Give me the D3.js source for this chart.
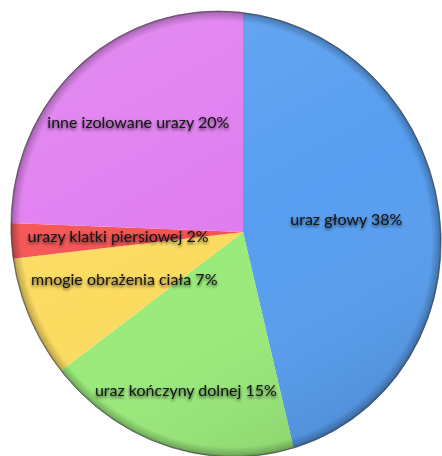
<!DOCTYPE html>
<html>
<head>
<meta charset="utf-8">
<script src="https://cdn.jsdelivr.net/npm/d3@7"></script>
<style>
  html, body { margin: 0; padding: 0; background: #ffffff; }
  svg { display: block; }
</style>
</head>
<body>
<svg id="chart" width="442" height="456"></svg>
<script>
// ---- data ----
const categories = [
  "uraz głowy",
  "uraz kończyny dolnej",
  "mnogie obrażenia ciała",
  "urazy klatki piersiowej",
  "inne izolowane urazy"
];
const values = [38, 15, 7, 2, 20];
const valueLabels = ["38%", "15%", "7%", "2%", "20%"];

// ---- layout / style (not data) ----
const colors = ["#579ef0", "#9aeb7a", "#fcdb60", "#f45252", "#e07df0"];
const labelDist = [104, 169, 128, 125, 151];
const vertex = { x: 243, y: 232 };
const rim = { cx: 226, cy: 234, rx: 215, ry: 223, skew: 2 };

const svg = d3.select("#chart");
const defs = svg.append("defs");

defs.append("clipPath").attr("id", "pieClip")
  .append("ellipse")
  .attr("transform", `translate(${rim.cx},${rim.cy}) skewX(${rim.skew})`)
  .attr("rx", rim.rx).attr("ry", rim.ry);

const light = defs.append("linearGradient").attr("id", "light")
  .attr("gradientUnits", "userSpaceOnUse")
  .attr("x1", 120).attr("y1", 20).attr("x2", 360).attr("y2", 450);
light.append("stop").attr("offset", 0).attr("stop-color", "#fff").attr("stop-opacity", 0.10);
light.append("stop").attr("offset", 0.5).attr("stop-color", "#fff").attr("stop-opacity", 0);
light.append("stop").attr("offset", 1).attr("stop-color", "#000").attr("stop-opacity", 0.12);

const rimGrad = defs.append("radialGradient").attr("id", "rimGrad");
rimGrad.append("stop").attr("offset", 0.955).attr("stop-color", "#000").attr("stop-opacity", 0);
rimGrad.append("stop").attr("offset", 0.99).attr("stop-color", "#000").attr("stop-opacity", 0.22);
rimGrad.append("stop").attr("offset", 1).attr("stop-color", "#000").attr("stop-opacity", 0.45);

const shadow = defs.append("filter").attr("id", "txtShadow")
  .attr("x", "-10%").attr("y", "-40%").attr("width", "120%").attr("height", "180%");
shadow.append("feDropShadow").attr("dx", 0).attr("dy", 1.8)
  .attr("stdDeviation", 1.6).attr("flood-color", "#000").attr("flood-opacity", 0.7);

const pie = d3.pie().sort(null).value(d => d)
  .startAngle(0).endAngle(2 * Math.PI);
const arcs = pie(values);

const arc = d3.arc().innerRadius(0).outerRadius(320);

const g = svg.append("g").attr("clip-path", "url(#pieClip)");
const slices = g.append("g").attr("transform", `translate(${vertex.x},${vertex.y})`);

slices.selectAll("path.slice")
  .data(arcs)
  .join("path")
  .attr("class", "slice")
  .attr("d", arc)
  .attr("fill", (d, i) => colors[i]);

// lighting + bevel overlays
g.append("rect").attr("x", 0).attr("y", 0).attr("width", 442).attr("height", 456)
  .attr("fill", "url(#light)");
g.append("ellipse")
  .attr("transform", `translate(${rim.cx},${rim.cy}) skewX(${rim.skew})`)
  .attr("rx", rim.rx).attr("ry", rim.ry)
  .attr("fill", "url(#rimGrad)");

svg.append("ellipse")
  .attr("transform", `translate(${rim.cx},${rim.cy}) skewX(${rim.skew})`)
  .attr("rx", rim.rx).attr("ry", rim.ry)
  .attr("fill", "none").attr("stroke", "#4a4a4a").attr("stroke-width", 0.9)
  .attr("stroke-opacity", 0.8);

// labels
const labels = svg.append("g").attr("transform", `translate(${vertex.x},${vertex.y})`);
labels.selectAll("text")
  .data(arcs)
  .join("text")
  .attr("x", (d, i) => Math.sin((d.startAngle + d.endAngle) / 2) * labelDist[i])
  .attr("y", (d, i) => -Math.cos((d.startAngle + d.endAngle) / 2) * labelDist[i])
  .attr("dy", "0.33em")
  .attr("text-anchor", "middle")
  .attr("font-family", "Lato, 'Open Sans', sans-serif")
  .attr("font-size", 16)
  .attr("fill", "#141414")
  .attr("filter", "url(#txtShadow)")
  .text((d, i) => `${categories[i]} ${valueLabels[i]}`);
</script>
</body>
</html>
